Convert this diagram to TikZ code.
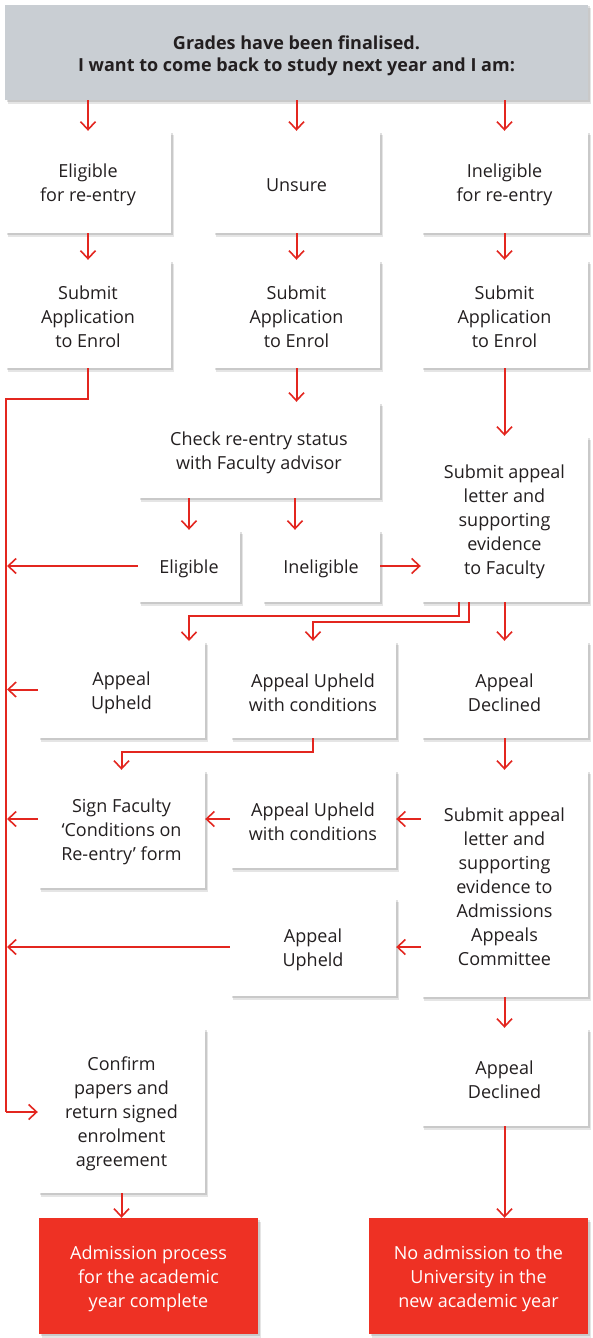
\documentclass[tikz,border=0pt]{standalone}
\usepackage{fontspec}
\setmainfont{Open Sans}
\usetikzlibrary{arrows.meta,shadows}
\definecolor{lred}{HTML}{E3261F}
\definecolor{bred}{HTML}{EE3124}
\definecolor{topgray}{HTML}{C9CED3}
\definecolor{txt}{HTML}{231F20}
\tikzset{
  box/.style={fill=white, inner sep=0pt,
    general shadow={fill=black, opacity=.10, shadow xshift=3pt, shadow yshift=-3.5pt},
    general shadow={fill=black, opacity=.12, shadow xshift=1.5pt, shadow yshift=-1.5pt}},
  topbox/.style={box, fill=topgray},
  redbox/.style={box, fill=bred},
  boxtext/.style={text=txt, align=center, inner sep=0pt, font=\fontsize{18}{24}\selectfont},
  toptext/.style={boxtext, font=\fontsize{18}{22}\selectfont\bfseries},
  redtext/.style={boxtext, text=white},
  conn/.style={draw=lred, line width=2pt},
  arr/.style={conn, -{Straight Barb[length=8pt,width=15pt,line width=1.6pt]}},
}
\newcommand\bx[8][box]{\node[#1, minimum width={(#5-#3)*1pt}, minimum height={(#6-#4)*1pt}] (#2) at ({(#3+#5)/2},{(#4+#6)/2}) {};
\node[#8] (#2-t) at ([yshift=-3pt]#2.center) {#7};}
\begin{document}
\begin{tikzpicture}[x=1pt,y=-1pt]
\fill[white] (0,0) rectangle (593,1338);
\useasboundingbox (0,0) rectangle (593,1338);
% boxes
\bx[topbox]{top}{5}{5}{588}{100}{Grades have been finalised.\\I want to come back to study next year and I am:}{toptext}
\bx{e1}{5}{131}{171}{233}{Eligible\\for re-entry}{boxtext}
\bx{u1}{213}{131}{380}{233}{Unsure}{boxtext}
\bx{i1}{421}{131}{588}{233}{Ineligible\\for re-entry}{boxtext}
\bx{e2}{5}{260}{171}{368}{Submit\\Application\\to Enrol}{boxtext}
\bx{u2}{213}{260}{380}{368}{Submit\\Application\\to Enrol}{boxtext}
\bx{i2}{421}{260}{588}{368}{Submit\\Application\\to Enrol}{boxtext}
\bx{chk}{138}{402}{380}{498}{Check re-entry status\\with Faculty advisor}{boxtext}
\bx{sa}{421}{436}{588}{602}{Submit appeal\\letter and\\supporting\\evidence\\to Faculty}{boxtext}
\bx{elig}{138}{530}{240}{602}{Eligible}{boxtext}
\bx{inel}{262}{530}{380}{602}{Ineligible}{boxtext}
\bx{aup}{38}{641}{205}{738}{Appeal\\Upheld}{boxtext}
\bx{auc}{230}{641}{396}{738}{Appeal Upheld\\with conditions}{boxtext}
\bx{adc}{421}{641}{588}{738}{Appeal\\Declined}{boxtext}
\bx{sf}{38}{770}{205}{888}{Sign Faculty\\‘Conditions on\\Re-entry’ form}{boxtext}
\bx{auc2}{230}{770}{396}{868}{Appeal Upheld\\with conditions}{boxtext}
\bx{adm}{421}{770}{588}{997}{Submit appeal\\letter and\\supporting\\evidence to\\Admissions\\Appeals\\Committee}{boxtext}
\bx{au3}{230}{898}{396}{996}{Appeal\\Upheld}{boxtext}
\bx{cf}{38}{1028}{205}{1193}{Confirm\\papers and\\return signed\\enrolment\\agreement}{boxtext}
\bx{ad2}{421}{1028}{588}{1126}{Appeal\\Declined}{boxtext}
\bx[redbox]{r1}{39}{1218}{258}{1334}{Admission process\\for the academic\\year complete}{redtext}
\bx[redbox]{r2}{369}{1218}{588}{1334}{No admission to the\\University in the\\new academic year}{redtext}
% trunk coordinates
\coordinate (T) at (6,399);
\coordinate (Tend) at (6,1112);
% connectors
\draw[arr] (top.south -| e1) -- (e1.north);
\draw[arr] (top.south -| u1) -- (u1.north);
\draw[arr] (top.south -| i1) -- (i1.north);
\draw[arr] (e1) -- (e2);
\draw[arr] (u1) -- (u2);
\draw[arr] (i1) -- (i2);
\draw[arr] (u2.south) -- (u2.south |- chk.north);
\draw[arr] (i2) -- (sa);
\draw[arr] (chk.south -| elig) -- (elig.north);
\draw[arr] ([xshift=-26pt]inel.north |- chk.south) -- ([xshift=-26pt]inel.north);
\draw[arr] (inel.east) -- (inel.east -| sa.west);
\draw[conn, line join=miter] (e2.south) -- (e2.south |- T) -- (T) -- (Tend);
\draw[arr, line join=miter] (Tend) -- (Tend -| cf.west);
\draw[arr] (elig.west) -- (elig.west -| 7,0);
\draw[arr, line join=miter] ([xshift=-46pt]sa.south) -- ++(0,14) -| (189,641);
\draw[arr, line join=miter] ([xshift=-36pt]sa.south) -- ++(0,20) -| (auc.north);
\draw[arr] (sa) -- (adc);
\draw[arr] (aup.west) -- (aup.west -| 7,0);
\draw[arr, line join=miter] (auc.south) -- ++(0,14) -| (sf.north);
\draw[arr] (adc) -- (adm);
\draw[arr] (adm.west |- auc2) -- (auc2.east);
\draw[arr] (auc2.west) -- (auc2.west -| sf.east);
\draw[arr] (auc2.west -| sf.west) -- (auc2.west -| 7,0);
\draw[arr] (adm.west |- au3) -- (au3.east);
\draw[arr] (au3.west) -- (au3.west -| 7,0);
\draw[arr] (adm) -- (ad2);
\draw[arr] (cf.south) -- (cf.south |- r1.north);
\draw[arr] (ad2) -- (r2.north -| ad2);
\end{tikzpicture}
\end{document}
